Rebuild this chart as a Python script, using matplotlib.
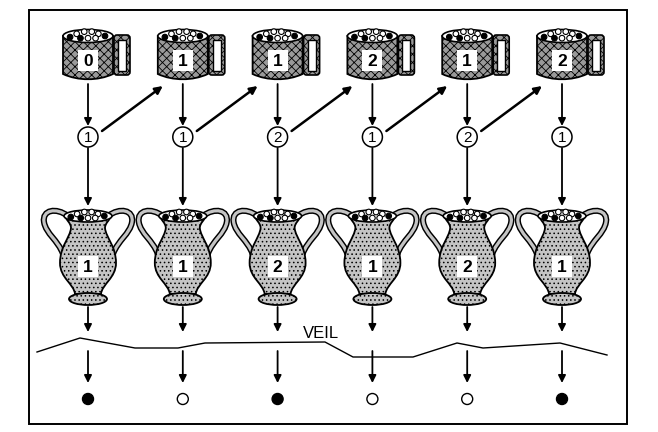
import matplotlib
matplotlib.use("Agg")
import matplotlib.pyplot as plt
from matplotlib.patches import Rectangle, Ellipse, Circle, PathPatch, FancyBboxPatch
from matplotlib.path import Path

# values
mug_labels = [0, 1, 1, 2, 1, 2]
draw_labels = [1, 1, 2, 1, 2, 1]
vase_labels = [1, 1, 2, 1, 2, 1]
outcome_black = [True, False, True, False, False, True]
veil_x = [37, 80, 135, 178, 205, 325, 353, 413, 457, 483, 560, 607]
veil_y = [352, 338, 348, 348, 343, 342, 357, 357, 343, 348, 343, 355]

# little balls seen in the mouths of the vessels (dx, dy, filled)
balls = [(-19, 1, 1), (-12, -2, 0), (-4, -4, 0), (4, -4, 0), (11, -2, 0),
         (18, 0, 1), (-8, 2, 1), (0, 2, 0), (8, 2, 0)]

MUG = "#9a9a9a"
VASE = "#c4c4c4"
plt.rcParams["hatch.linewidth"] = 0.6
plt.rcParams["hatch.color"] = "#505050"

fig = plt.figure(figsize=(6.58, 4.32), dpi=100)
ax = fig.add_axes([0, 0, 1, 1])
ax.set_xlim(0, 658)
ax.set_ylim(432, 0)
ax.axis("off")

cols = [88 + 94.8 * i for i in range(len(mug_labels))]


def arrow(x0, y0, x1, y1, lw=1.3):
    ax.annotate("", xy=(x1, y1), xytext=(x0, y0),
                arrowprops=dict(arrowstyle="-|>", lw=lw, color="k",
                                mutation_scale=11, shrinkA=0, shrinkB=0))


def label_box(cx, cy, txt):
    ax.add_patch(Rectangle((cx - 10, cy - 10.5), 20, 21, facecolor="white", edgecolor="none", zorder=5))
    ax.text(cx, cy + 1, str(txt), ha="center", va="center", fontsize=12.5,
            fontweight="bold", family="Liberation Sans", zorder=6)


def mouth(cx, cy, w, h):
    ax.add_patch(Ellipse((cx, cy), w, h, facecolor="white", edgecolor="k", lw=1.2, zorder=3))
    s = w / 53.0
    for dx, dy, f in balls:
        ax.add_patch(Circle((cx + dx * s, cy + dy * h / 12.0), 2.8,
                            facecolor="k" if f else "white", edgecolor="k", lw=0.8, zorder=4))


def mug(cx, txt):
    top, bot = 36, 74
    verts = [(cx - 25, top), (cx - 25, bot), (cx - 10, bot + 7), (cx + 10, bot + 7),
             (cx + 25, bot), (cx + 25, top), (cx - 25, top)]
    codes = [Path.MOVETO, Path.LINETO, Path.CURVE4, Path.CURVE4, Path.CURVE4,
             Path.LINETO, Path.CLOSEPOLY]
    ax.add_patch(PathPatch(Path(verts, codes), facecolor=MUG, edgecolor="k", lw=1.3,
                           hatch="xxxx", zorder=2))
    # handle
    ax.add_patch(FancyBboxPatch((cx + 26, 35), 16, 40, boxstyle="round,pad=0,rounding_size=3",
                                facecolor=MUG, edgecolor="k", lw=1.2, hatch="xxxx", zorder=1))
    ax.add_patch(Rectangle((cx + 30, 39.5), 8, 31, facecolor="white", edgecolor="k", lw=1.0, zorder=1))
    mouth(cx, top, 50, 13)
    label_box(cx, 60, txt)


def vase(cx, txt):
    y0 = 210
    right = [(23, 6), (22, 10), (17, 13), (17, 18), (18, 28), (28, 36), (28, 53),
             (28, 68), (14, 74), (13, 84)]
    left = [(-x, y) for x, y in reversed(right)]
    pts = right + left
    verts = [(cx + x, y0 + y) for x, y in pts] + [(cx + 23, y0 + 6)]
    codes = ([Path.MOVETO] + [Path.CURVE4] * 9 + [Path.LINETO] + [Path.CURVE4] * 9 + [Path.CLOSEPOLY])
    # handles drawn first so the body covers their ends
    for sgn in (1, -1):
        hv = [(cx + sgn * 20, y0 + 6), (cx + sgn * 32, y0 - 3), (cx + sgn * 46, y0 + 0),
              (cx + sgn * 44, y0 + 12), (cx + sgn * 42, y0 + 24), (cx + sgn * 30, y0 + 30),
              (cx + sgn * 25, y0 + 44)]
        hc = [Path.MOVETO] + [Path.CURVE4] * 6
        p = Path(hv, hc)
        ax.add_patch(PathPatch(p, fill=False, lw=4.4, edgecolor="k", zorder=1))
        ax.add_patch(PathPatch(p, fill=False, lw=2.3, edgecolor=VASE, zorder=1))
    ax.add_patch(PathPatch(Path(verts, codes), facecolor=VASE, edgecolor="k", lw=1.3,
                           hatch="....", zorder=2))
    ax.add_patch(Ellipse((cx, y0 + 89), 38, 12, facecolor=VASE, edgecolor="k", lw=1.3,
                         hatch="....", zorder=2))
    mouth(cx, y0 + 6, 48, 12)
    label_box(cx, 266, txt)


# frame
ax.add_patch(Rectangle((29, 10), 598, 414, fill=False, edgecolor="k", lw=1.4))

for i, cx in enumerate(cols):
    mug(cx, mug_labels[i])
    arrow(cx, 84, cx, 126)
    ax.add_patch(Circle((cx, 137), 10, facecolor="white", edgecolor="k", lw=1.1, zorder=3))
    ax.text(cx, 137.5, str(draw_labels[i]), ha="center", va="center", fontsize=11,
            family="Liberation Sans", zorder=4)
    if i + 1 < len(cols):
        arrow(cx + 14, 131, cols[i + 1] - 20, 86, lw=1.8)
    arrow(cx, 148, cx, 206)
    vase(cx, vase_labels[i])
    arrow(cx, 307, cx, 332)
    arrow(cx, 351, cx, 383)
    ax.add_patch(Circle((cx, 399), 5.5, facecolor="k" if outcome_black[i] else "white",
                        edgecolor="k", lw=1.0, zorder=3))

ax.plot(veil_x, veil_y, color="k", lw=1.0)
ax.text(303, 333, "VEIL", ha="left", va="center", fontsize=12, family="Liberation Sans")

fig.savefig("out.png", dpi=100)
